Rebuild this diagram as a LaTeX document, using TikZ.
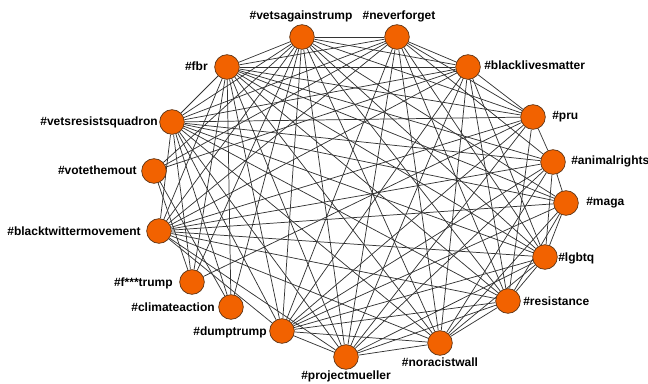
\documentclass[tikz,border=0pt]{standalone}
\usepackage{fontspec}
\setmainfont{Liberation Sans}
\usetikzlibrary{backgrounds}
\definecolor{hubfill}{RGB}{242,98,0}
\definecolor{hubline}{RGB}{90,50,20}
\begin{document}
\begin{tikzpicture}[x=0.75pt,y=-0.75pt,
  hub/.style={circle,draw=hubline,line width=0.5pt,fill=hubfill,minimum size=18.5pt,inner sep=0pt},
  tag/.style={font=\fontsize{9}{10}\selectfont\bfseries,inner sep=0pt,text=black},
  link/.style={draw=black!80,line width=0.55pt}]
\useasboundingbox (0,0) rectangle (648,384);

% hashtag vertices
\node[hub] (va)  at (302,37)  {};
\node[hub] (nf)  at (397,37)  {};
\node[hub] (blm) at (468,67)  {};
\node[hub] (pru) at (533,117) {};
\node[hub] (ar)  at (553,162) {};
\node[hub] (mg)  at (566,203) {};
\node[hub] (lg)  at (545,257) {};
\node[hub] (res) at (508,301) {};
\node[hub] (nw)  at (440,343) {};
\node[hub] (pm)  at (346,357) {};
\node[hub] (dt)  at (282,331) {};
\node[hub] (ca)  at (231,307) {};
\node[hub] (ft)  at (192,282) {};
\node[hub] (bt)  at (159,231) {};
\node[hub] (vt)  at (154,171) {};
\node[hub] (vr)  at (172,122) {};
\node[hub] (fbr) at (227,67)  {};

% hashtag labels
\node[tag,anchor=base] (lva)  at (301,20)  {\#vetsagainstrump};
\node[tag,anchor=base] (lnf)  at (399,20)  {\#neverforget};
\node[tag,anchor=base west] (lblm) at (484,70)  {\#blacklivesmatter};
\node[tag,anchor=base west] (lpru) at (552,120) {\#pru};
\node[tag,anchor=base west] (lar)  at (571,165) {\#animalrights};
\node[tag,anchor=base west] (lmg)  at (586,206) {\#maga};
\node[tag,anchor=base west] (llg)  at (558,261) {\#lgbtq};
\node[tag,anchor=base west] (lres) at (523,305) {\#resistance};
\node[tag,anchor=base] (lnw)  at (440,366) {\#noracistwall};
\node[tag,anchor=base] (lpm)  at (346,379) {\#projectmueller};
\node[tag,anchor=base east] (ldt)  at (267,335) {\#dumptrump};
\node[tag,anchor=base east] (lca)  at (215,311) {\#climateaction};
\node[tag,anchor=base east] (lft)  at (173,286) {\#f***trump};
\node[tag,anchor=base east] (lbt)  at (141,235) {\#blacktwittermovement};
\node[tag,anchor=base east] (lvt)  at (137,175) {\#votethemout};
\node[tag,anchor=base east] (lvr)  at (158,126) {\#vetsresistsquadron};
\node[tag,anchor=base east] (lfbr) at (208,71)  {\#fbr};

% co-occurrence edges
\begin{scope}[on background layer]
  % densely linked core
  \foreach \a/\b in {va/nf,va/blm,va/lg,va/res,va/nw,va/pm,va/dt,va/bt,va/vr,va/fbr,
                     nf/blm,nf/lg,nf/res,nf/nw,nf/pm,nf/dt,nf/bt,nf/vr,nf/fbr,
                     blm/lg,blm/res,blm/nw,blm/pm,blm/dt,blm/bt,blm/vr,blm/fbr,
                     lg/res,lg/nw,lg/pm,lg/dt,lg/bt,lg/vr,lg/fbr,
                     res/nw,res/pm,res/dt,res/bt,res/vr,res/fbr,
                     nw/pm,nw/dt,nw/bt,nw/vr,nw/fbr,
                     pm/dt,pm/bt,pm/vr,pm/fbr,
                     dt/bt,dt/vr,dt/fbr,
                     bt/vr,bt/fbr,
                     vr/fbr}
    \path[link] (\a) -- (\b);
  % eastern tags
  \foreach \a/\b in {pru/blm,pru/ar,pru/va,pru/nf,pru/fbr,pru/vr,pru/bt,pru/dt,pru/pm,pru/res,
                     ar/mg,ar/nf,ar/fbr,ar/vr,ar/bt,ar/dt,ar/pm,ar/nw,ar/lg,
                     mg/lg,mg/va,mg/fbr,mg/vr,mg/bt,mg/dt,mg/nw,mg/res}
    \path[link] (\a) -- (\b);
  % sparsely linked western tags
  \foreach \a/\b in {vt/va,vt/nf,vt/blm,vt/ft,vt/ca,
                     ft/vr,ft/fbr,ft/va,ft/pru,
                     ca/vr,ca/fbr,ca/va}
    \path[link] (\a) -- (\b);
\end{scope}
\end{tikzpicture}
\end{document}
